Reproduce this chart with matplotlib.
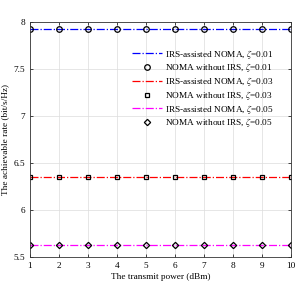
import numpy as np
import matplotlib
matplotlib.use("Agg")
import matplotlib.pyplot as plt

plt.rcParams['font.family'] = ['Liberation Serif', 'DejaVu Serif']
plt.rcParams['mathtext.fontset'] = 'stix'

power = [1, 2, 3, 4, 5, 6, 7, 8, 9, 10]
rate_irs_001 = [7.925] * 10
rate_noirs_001 = [7.925] * 10
rate_irs_003 = [6.354] * 10
rate_noirs_003 = [6.354] * 10
rate_irs_005 = [5.625] * 10
rate_noirs_005 = [5.625] * 10

fig = plt.figure(figsize=(3.06, 2.94), dpi=100)
ax = fig.add_axes([0.098, 0.126, 0.853, 0.799])

ax.plot(power, rate_irs_001, '-.', color='blue', lw=0.9, label=r'IRS-assisted NOMA, $\zeta$=0.01')
ax.plot(power, rate_noirs_001, 'o', color='black', mfc='none', ms=4, mew=0.9, label=r'NOMA without IRS, $\zeta$=0.01')
ax.plot(power, rate_irs_003, '-.', color='red', lw=0.9, label=r'IRS-assisted NOMA, $\zeta$=0.03')
ax.plot(power, rate_noirs_003, 's', color='black', mfc='none', ms=3.5, mew=0.9, label=r'NOMA without IRS, $\zeta$=0.03')
ax.plot(power, rate_irs_005, '-.', color='magenta', lw=0.9, label=r'IRS-assisted NOMA, $\zeta$=0.05')
ax.plot(power, rate_noirs_005, 'D', color='black', mfc='none', ms=3.2, mew=0.9, label=r'NOMA without IRS, $\zeta$=0.05')

ax.set_xlim(1, 10)
ax.set_ylim(5.5, 8)
ax.set_xticks(power)
ax.set_yticks([5.5, 6, 6.5, 7, 7.5, 8])
ax.set_yticklabels(['5.5', '6', '6.5', '7', '7.5', '8'])
ax.tick_params(labelsize=6.7, direction='in', length=2.5, width=0.5, top=True, right=True)
ax.grid(True, color='#dcdcdc', lw=0.5)
for s in ax.spines.values():
    s.set_linewidth(0.6)
    s.set_color('#333333')

ax.set_xlabel('The transmit power (dBm)', fontsize=6.7, labelpad=2)
ax.set_ylabel('The achievable rate (bit/s/Hz)', fontsize=6.7, labelpad=3)

ax.legend(loc='upper right', bbox_to_anchor=(0.955, 0.915), frameon=False, fontsize=6.7,
          handlelength=3.2, handletextpad=0.3, labelspacing=0.08, borderaxespad=0.2)

fig.savefig('out.png', dpi=100)
